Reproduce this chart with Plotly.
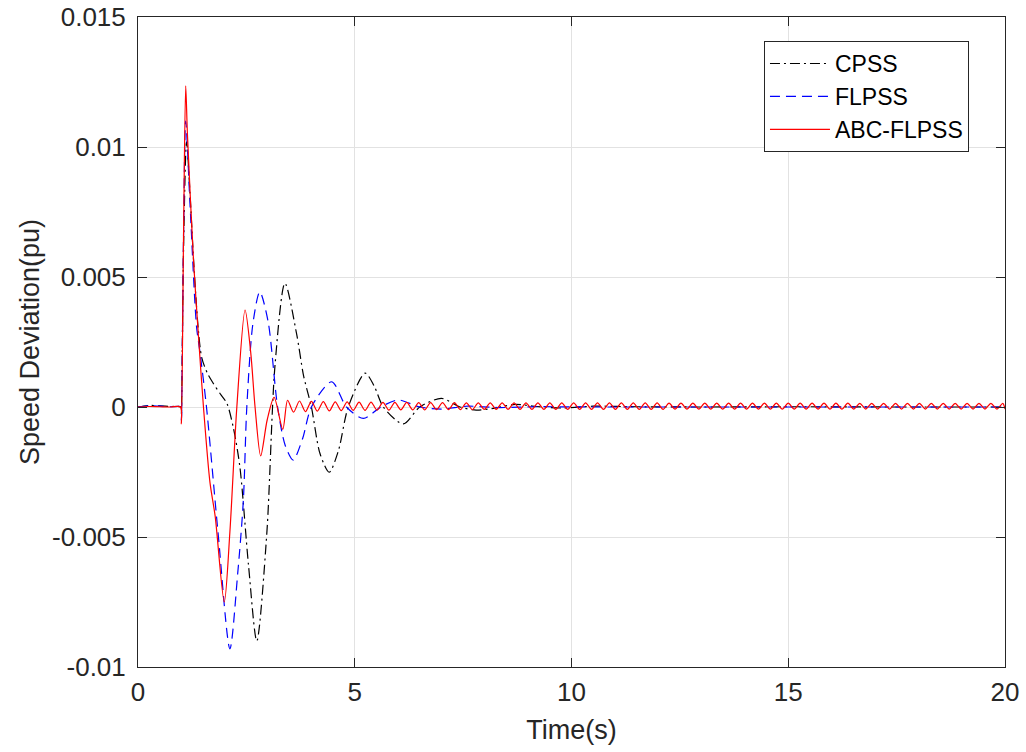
import plotly.graph_objects as go

# ---------------- data ----------------
x_ticks = [0, 5, 10, 15, 20]
y_ticks = [-0.01, -0.005, 0, 0.005, 0.01, 0.015]
y_tick_text = ["-0.01", "-0.005", "0", "0.005", "0.01", "0.015"]

t_cpss = [0, 0.25, 0.5, 0.75, 0.99, 1.0, 1.05, 1.12, 1.2, 1.28, 1.39, 1.47, 1.6, 1.74,
          1.9, 2.05, 2.2, 2.35, 2.55, 2.74, 2.97, 3.16, 3.39, 3.66, 3.82, 4.0, 4.2, 4.41,
          4.62, 4.85, 5.24, 5.45, 5.66, 6.12, 6.5, 7.0, 7.43, 7.8, 8.2, 8.7, 9.2, 9.8,
          10.5, 11.5, 13, 15, 17.5, 20]
v_cpss = [0, 0.00006, 0.00004, 0.00002, 0, -0.0003, 0.0060, 0.0102, 0.0082, 0.0057, 0.0030,
          0.0019, 0.0013, 0.0009, 0.0005, 0.00014, -0.0008, -0.0023, -0.0061, -0.0090,
          -0.0049, 0.0016, 0.00476, 0.0028, 0.0012, 0.0, -0.0018, -0.00251, -0.0017, 0.0,
          0.0013, 0.0008, 0.0, -0.00065, 0.0, 0.00033, 0.0, -0.00012, -0.00005, 0.0001,
          0.00002, -0.00004, 0.00003, 0.00001, 0, 0.00001, 0, 0]

t_flpss = [0, 0.25, 0.5, 0.75, 0.99, 1.0, 1.05, 1.10, 1.2, 1.35, 1.43, 1.58, 1.85, 2.12,
           2.3, 2.43, 2.51, 2.65, 2.81, 3.0, 3.22, 3.4, 3.58, 3.8, 4.0, 4.47, 4.81, 5.2,
           5.6, 6.0, 6.5, 7.0, 7.6, 8.3, 9.2, 10.5, 12, 14, 17, 20]
v_flpss = [0, 0.00005, 0.00003, 0.00001, 0, -0.0005, 0.0065, 0.0110, 0.0078, 0.0031, 0.0021,
           0.0, -0.0049, -0.0093, -0.0064, -0.0036, 0.0, 0.0032, 0.00443, 0.0033, 0.0,
           -0.0015, -0.00204, -0.0012, 0.0, 0.00097, 0.0, -0.00044, 0.0, 0.00027, 0.0,
           -0.00008, 0.00003, -0.00002, 0.00001, 0, 0, 0, 0, 0]

t_abc = [0, 0.25, 0.5, 0.75, 0.98, 1.0, 1.05, 1.10, 1.14, 1.28, 1.4, 1.51, 1.66, 1.78,
         1.99, 2.12, 2.28, 2.47, 2.6, 2.7, 2.83, 2.98, 3.14, 3.34,
         3.450, 3.588, 3.725, 3.863, 4.000, 4.138, 4.275, 4.413, 4.550, 4.688,
         4.825, 4.963, 5.100, 5.238, 5.375, 5.513, 5.650, 5.788, 5.925, 6.063,
         6.200, 6.338, 6.475, 6.613, 6.750, 6.888, 7.025, 7.163, 7.300, 7.438,
         7.575, 7.713, 7.850, 7.988, 8.125, 8.263, 8.400, 8.538, 8.675, 8.813,
         8.950, 9.088, 9.225, 9.363, 9.500, 9.638, 9.775, 9.913, 10.050, 10.188,
         10.325, 10.463, 10.600, 10.738, 10.875, 11.013, 11.150, 11.288, 11.425, 11.563,
         11.700, 11.838, 11.975, 12.113, 12.250, 12.388, 12.525, 12.663, 12.800, 12.938,
         13.075, 13.213, 13.350, 13.488, 13.625, 13.763, 13.900, 14.038, 14.175, 14.313,
         14.450, 14.588, 14.725, 14.863, 15.000, 15.138, 15.275, 15.413, 15.550, 15.688,
         15.825, 15.963, 16.100, 16.238, 16.375, 16.513, 16.650, 16.788, 16.925, 17.063,
         17.200, 17.338, 17.475, 17.613, 17.750, 17.888, 18.025, 18.163, 18.300, 18.438,
         18.575, 18.713, 18.850, 18.988, 19.125, 19.263, 19.400, 19.538, 19.675, 19.813,
         19.950, 20.0]
v_abc = [0, 0.00002, 0.00001, 0, 0, -0.00065, 0.0065, 0.01235, 0.0105, 0.00565, 0.0026, 0,
         -0.0029, -0.0042, -0.0075, -0.0048, 0, 0.00373, 0.0021, 0, -0.00188, -0.0005,
         0.00037, -0.00086,
         0.00026, -0.00020, 0.00023, -0.00018, 0.00022, -0.00016, 0.00021, -0.00015,
         0.00020, -0.00014, 0.00020, -0.00013, 0.00019, -0.00013, 0.00019, -0.00012,
         0.00018, -0.00012, 0.00018, -0.00011, 0.00018, -0.00011, 0.00017, -0.00011,
         0.00017, -0.00010, 0.00017, -0.00010, 0.00017, -0.00010, 0.00016, -0.00010,
         0.00016, -0.00009, 0.00016, -0.00009, 0.00016, -0.00009, 0.00016, -0.00009,
         0.00016, -0.00009, 0.00016, -0.00009, 0.00016, -0.00009, 0.00016, -0.00009,
         0.00016, -0.00009, 0.00016, -0.00009, 0.00016, -0.00009, 0.00016, -0.00009,
         0.00016, -0.00009, 0.00016, -0.00009, 0.00016, -0.00009, 0.00016, -0.00009,
         0.00015, -0.00008, 0.00015, -0.00008, 0.00015, -0.00008, 0.00015, -0.00008,
         0.00015, -0.00008, 0.00015, -0.00008, 0.00015, -0.00008, 0.00015, -0.00008,
         0.00015, -0.00008, 0.00015, -0.00008, 0.00015, -0.00008, 0.00015, -0.00008,
         0.00015, -0.00008, 0.00015, -0.00008, 0.00015, -0.00008, 0.00015, -0.00008,
         0.00014, -0.00008, 0.00014, -0.00008, 0.00014, -0.00008, 0.00014, -0.00008,
         0.00014, -0.00008, 0.00014, -0.00008, 0.00014, -0.00008, 0.00014, -0.00008,
         0.00014, -0.00008, 0.00014, -0.00008, 0.00014, -0.00008, 0.00014, -0.00008,
         0.00014, -0.00008, 0.00014, -0.00008,
         0.00014, 0.00003]

# ---------------- figure ----------------
FONT = "Liberation Sans, Arial, Helvetica, sans-serif"
AXIS = "#262626"

fig = go.Figure()
fig.add_trace(go.Scatter(x=t_cpss, y=v_cpss, mode="lines", name="CPSS",
                         line=dict(color="#000000", width=1.2, dash="10px,4px,2px,4px",
                                   shape="spline", smoothing=0.8)))
fig.add_trace(go.Scatter(x=t_flpss, y=v_flpss, mode="lines", name="FLPSS",
                         line=dict(color="#0000ff", width=1.2, dash="10px,6px",
                                   shape="spline", smoothing=0.8)))
fig.add_trace(go.Scatter(x=t_abc, y=v_abc, mode="lines", name="ABC-FLPSS",
                         line=dict(color="#ff0000", width=1.2,
                                   shape="spline", smoothing=0.8)))

fig.update_layout(
    width=1026, height=752,
    margin=dict(l=138, r=21, t=17, b=85, autoexpand=False),
    plot_bgcolor="white", paper_bgcolor="white",
    font=dict(family=FONT, size=26, color=AXIS),
    legend=dict(x=0.722, y=0.963, xanchor="left", yanchor="top",
                bordercolor=AXIS, borderwidth=1, bgcolor="white",
                font=dict(size=23, color="#000000"), itemwidth=60,
                tracegroupgap=0),
    showlegend=True,
)
fig.update_xaxes(
    range=[0, 20], tickmode="array", tickvals=x_ticks,
    ticks="inside", ticklen=9, tickcolor=AXIS,
    showgrid=True, gridcolor="#e2e2e2", gridwidth=1,
    showline=True, linecolor=AXIS, linewidth=1, mirror="ticks",
    zeroline=False, ticklabelstandoff=2, ticklabeloverflow="allow",
    automargin=False,
    title=dict(text="Time(s)", font=dict(size=27), standoff=13),
)
fig.update_yaxes(
    range=[-0.01, 0.015], tickmode="array", tickvals=y_ticks, ticktext=y_tick_text,
    ticks="inside", ticklen=9, tickcolor=AXIS,
    showgrid=True, gridcolor="#e2e2e2", gridwidth=1,
    showline=True, linecolor=AXIS, linewidth=1, mirror="ticks",
    zeroline=False, ticklabelstandoff=6, ticklabeloverflow="allow",
    automargin=False,
    title=dict(text="Speed Deviation(pu)", font=dict(size=27), standoff=4),
)

# remove the default 8px page margin so the figure sits at the window origin
fig.write_html("out.html", config={"displayModeBar": False},
               post_script="document.body.style.margin='0px';")
